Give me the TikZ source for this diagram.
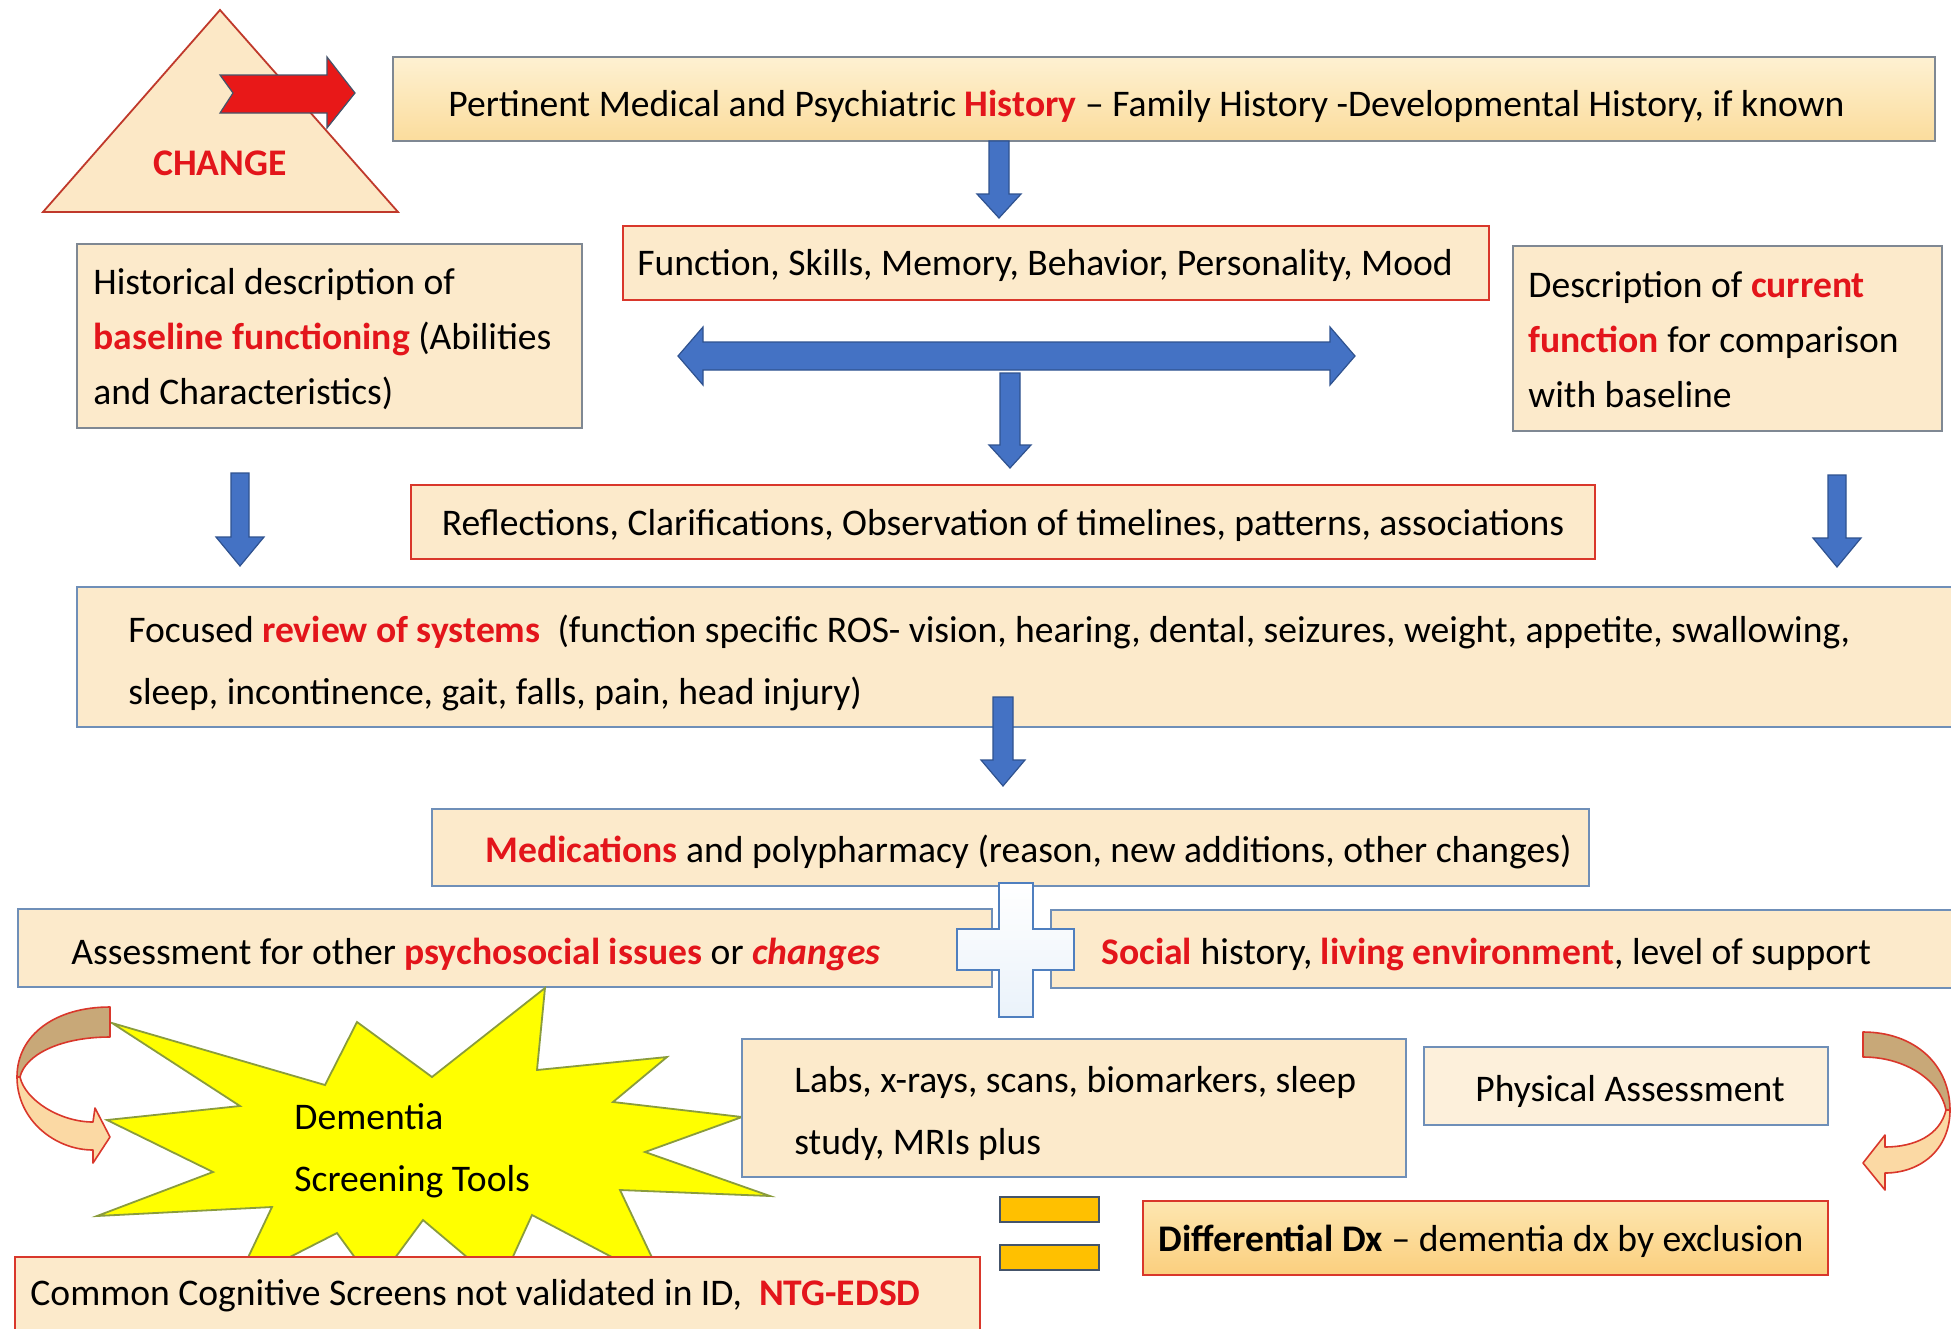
\documentclass[tikz,border=0pt]{standalone}
\usepackage{fontspec}
\setmainfont{Carlito}

\definecolor{boxfill}{HTML}{FCEACB}
\definecolor{topfillA}{HTML}{FEF1D2}
\definecolor{topfillB}{HTML}{FBDC9C}
\definecolor{difffillA}{HTML}{FDE6B0}
\definecolor{difffillB}{HTML}{FBCF7E}
\definecolor{greyline}{HTML}{7F8893}
\definecolor{blueline}{HTML}{6F8FB8}
\definecolor{redline}{HTML}{D9372B}
\definecolor{txtred}{HTML}{E3151B}
\definecolor{arrowblue}{HTML}{4472C4}
\definecolor{arrowedge}{HTML}{2F528F}
\definecolor{burstfill}{HTML}{FFFF00}
\definecolor{burstedge}{HTML}{8A9C3C}
\definecolor{bandlight}{HTML}{FBD9A4}
\definecolor{banddark}{HTML}{C8A878}
\definecolor{eqfill}{HTML}{FFC000}
\definecolor{eqedge}{HTML}{44546A}
\definecolor{trifill}{HTML}{FCE8C6}
\definecolor{trileg}{HTML}{C0392B}
\definecolor{flagred}{HTML}{E81818}
\definecolor{crossedge}{HTML}{4F7FBF}
\definecolor{crossfill}{HTML}{EAF2FA}

\newcommand\redb[1]{\textbf{\color{txtred}#1}}
\newcommand\blockdown[6]{%
  \draw[barrow] ({#1-#4},#2) -- ({#1+#4},#2) -- ({#1+#4},{#3-#6}) -- ({#1+#5},{#3-#6})
    -- (#1,#3) -- ({#1-#5},{#3-#6}) -- ({#1-#4},{#3-#6}) -- cycle;}

\tikzset{
  box/.style={draw, line width=0.9pt, fill=boxfill, inner sep=0pt},
  greybox/.style={box, draw=greyline},
  bluebox/.style={box, draw=blueline},
  redbox/.style={box, draw=redline},
  txt/.style={inner sep=0pt, align=left, font=\fontsize{18.8pt}{31pt}\selectfont},
  txttight/.style={inner sep=0pt, align=left, font=\fontsize{18.8pt}{27.5pt}\selectfont},
  barrow/.style={fill=arrowblue, draw=arrowedge, line width=0.6pt, line join=miter},
  band/.style={draw=redline, line width=0.8pt, line join=round},
}

\begin{document}
\begin{tikzpicture}[x=0.5pt, y=-0.5pt]
\useasboundingbox (0,0) rectangle (1951,1329);
\fill[white] (0,0) rectangle (1951,1329);

% change triangle with its flag arrow
\draw[fill=trifill, draw=trileg, line width=0.9pt, line join=miter]
  (220,10) -- (398,212) -- (43,212) -- cycle;
\draw[fill=flagred, draw=eqedge, line width=0.6pt]
  (220,75) -- (327,75) -- (327,57) -- (355,93) -- (327,128) -- (327,113) -- (220,113) -- (233,93) -- cycle;
\node[txt, font=\fontsize{18.8pt}{22pt}\selectfont\bfseries, text=txtred] (change) at (220,163) {CHANGE};

% history
\node[greybox, top color=topfillA, bottom color=topfillB, minimum width=771pt, minimum height=42pt] (hist) at (1164,99) {};
\node[txt, anchor=west] (histT) at (448,106)
  {Pertinent Medical and Psychiatric \redb{History} -- Family History -Developmental History, if known};

\blockdown{999}{141}{218}{10}{22}{24}

% function row
\node[redbox, minimum width=433pt, minimum height=37pt] (func) at (1056,263) {};
\node[txt] (funcT) at (1045,265) {Function, Skills, Memory, Behavior, Personality, Mood};

\node[greybox, minimum width=252.5pt, minimum height=92pt] (base) at (329.5,336) {};
\node[txttight, anchor=west] (baseT) at (93,339)
  {Historical description of\\ \redb{baseline functioning} (Abilities\\ and Characteristics)};

\node[greybox, minimum width=214.5pt, minimum height=92.5pt] (curr) at (1727.5,338.5) {};
\node[txttight, anchor=west] (currT) at (1528,340)
  {Description of \redb{current}\\ \redb{function} for comparison\\ with baseline};

% comparison arrows
\draw[barrow] (678,356) -- (703,327) -- (703,342) -- (1330,342) -- (1330,327) -- (1355,356)
  -- (1330,385) -- (1330,370) -- (703,370) -- (703,385) -- cycle;
\blockdown{1010}{373}{468}{10}{21}{23}
\blockdown{240}{473}{566}{9}{24}{29}
\blockdown{1837}{475}{567}{9}{24}{29}

\node[redbox, minimum width=592pt, minimum height=37pt] (refl) at (1003,522) {};
\node[txt] (reflT) at (1003,525)
  {Reflections, Clarifications, Observation of timelines, patterns, associations};

% review of systems
\node[bluebox, minimum width=941.5pt, minimum height=70pt] (ros) at (1018.5,657) {};
\node[txt, anchor=west] (rosT) at (128,663)
  {Focused \redb{review of systems}\ \ (function specific ROS- vision, hearing, dental, seizures, weight, appetite, swallowing,\\
   sleep, incontinence, gait, falls, pain, head injury)};

\blockdown{1003}{697}{786}{10}{22}{26}

% medications and psychosocial
\node[bluebox, minimum width=578.5pt, minimum height=38.5pt] (meds) at (1010.5,847.5) {};
\node[txt, anchor=west] (medsT) at (485,852)
  {\redb{Medications} and polypharmacy (reason, new additions, other changes)};

\node[bluebox, minimum width=487pt, minimum height=39pt] (psy) at (505,948) {};
\node[txt, anchor=west] (psyT) at (71,954)
  {Assessment for other \redb{psychosocial issues} or \textbf{\textit{\color{txtred}changes}}};

\node[bluebox, minimum width=454.5pt, minimum height=39pt] (soc) at (1505.5,949) {};
\node[txt, anchor=west] (socT) at (1101,954)
  {\redb{Social} history, \redb{living environment}, level of support};

% plus sign
\draw[top color=white, bottom color=crossfill, draw=crossedge, line width=1pt]
  (999,883) -- (1033,883) -- (1033,929) -- (1074,929) -- (1074,970) -- (1033,970) -- (1033,1017)
  -- (999,1017) -- (999,970) -- (957,970) -- (957,929) -- (999,929) -- cycle;

% screening burst
\draw[fill=burstfill, draw=burstedge, line width=0.9pt, line join=miter]
  (545,988) -- (537,1070) -- (667,1057) -- (613,1102) -- (742,1117) -- (645,1152) -- (770,1196)
  -- (620,1190) -- (665,1285) -- (532,1215) -- (500,1285) -- (423,1220) -- (375,1285) -- (337,1233)
  -- (235,1285) -- (272,1207) -- (97,1216) -- (213,1172) -- (107,1120) -- (240,1106) -- (112,1023)
  -- (325,1085) -- (357,1022) -- (432,1077) -- cycle;
\node[txt, anchor=west] (dem) at (294,1151) {Dementia\\ Screening Tools};

% tests
\node[bluebox, minimum width=332pt, minimum height=69pt] (labs) at (1074,1108) {};
\node[txt, anchor=west] (labsT) at (794,1113) {Labs, x-rays, scans, biomarkers, sleep\\ study, MRIs plus};

\node[bluebox, fill=boxfill!70!white, minimum width=202pt, minimum height=39pt] (phys) at (1626,1086) {};
\node[txt] (physT) at (1630,1091) {Physical Assessment};

\node[redbox, minimum width=482.5pt, minimum height=41.5pt] (cog) at (497.5,1298.5) {};
\node[txt, anchor=west] (cogT) at (30,1296)
  {Common Cognitive Screens not validated in ID,\ \ \redb{NTG-EDSD}};

% equals sign and result
\draw[fill=eqfill, draw=eqedge, line width=1.2pt] (1000,1197) rectangle (1099,1222);
\draw[fill=eqfill, draw=eqedge, line width=1.2pt] (1000,1245) rectangle (1099,1270);

\node[redbox, top color=difffillA, bottom color=difffillB, minimum width=342.5pt, minimum height=37pt] (ddx) at (1485.5,1238) {};
\node[txt, anchor=west] (ddxT) at (1158,1241) {\textbf{Differential Dx} -- dementia dx by exclusion};

% curved arrow, left
\draw[band, fill=banddark] (110,1007) .. controls (55,1007) and (17,1035) .. (17,1077)
  -- (20,1077) .. controls (25,1055) and (60,1037) .. (110,1037) -- cycle;
\draw[band, fill=bandlight] (17,1077) .. controls (17,1120) and (55,1150) .. (93,1150)
  -- (93,1163) -- (110,1137) -- (95,1108) -- (93,1122)
  .. controls (60,1122) and (25,1100) .. (20,1077) -- cycle;

% curved arrow, right
\draw[band, fill=banddark] (1863,1032) .. controls (1915,1032) and (1950,1065) .. (1950,1110)
  -- (1946,1110) .. controls (1940,1080) and (1905,1057) .. (1863,1057) -- cycle;
\draw[band, fill=bandlight] (1950,1110) .. controls (1950,1150) and (1920,1173) .. (1885,1173)
  -- (1885,1190) -- (1863,1163) -- (1885,1135) -- (1885,1147)
  .. controls (1915,1147) and (1940,1135) .. (1946,1110) -- cycle;
\end{tikzpicture}
\end{document}
